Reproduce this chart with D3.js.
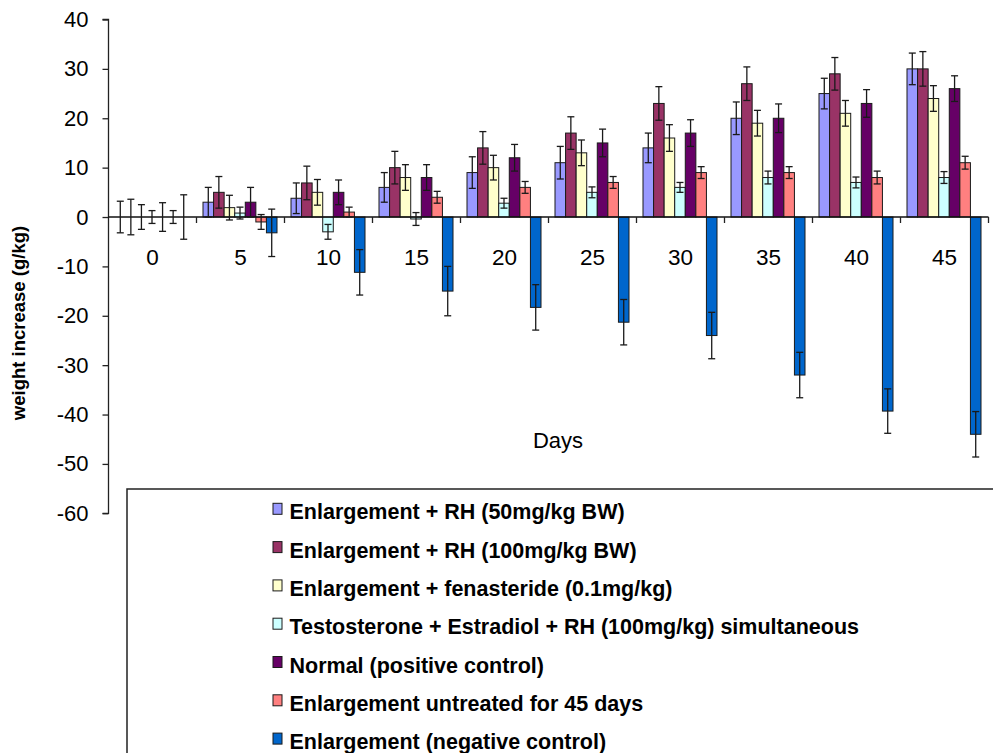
<!DOCTYPE html>
<html>
<head>
<meta charset="utf-8">
<script src="https://cdn.jsdelivr.net/npm/d3@7"></script>
<style>
  html, body { margin: 0; padding: 0; background: #fff; }
  svg { display: block; font-family: "Liberation Sans", Arial, sans-serif; }
</style>
</head>
<body>
<svg id="chart" width="993" height="753"></svg>
<script>
const days = ["0", "5", "10", "15", "20", "25", "30", "35", "40", "45"];
const seriesNames = [
  "Enlargement + RH (50mg/kg BW)",
  "Enlargement + RH (100mg/kg BW)",
  "Enlargement + fenasteride (0.1mg/kg)",
  "Testosterone + Estradiol + RH (100mg/kg) simultaneous",
  "Normal (positive control)",
  "Enlargement untreated for 45 days",
  "Enlargement (negative control)"
];
const seriesColors = ["#9999FF", "#993366", "#FFFFCC", "#CCFFFF", "#660066", "#FF8080", "#0066CC"];

const rh50      = [0, 3.0, 3.8, 6.0, 9.0, 11.0, 14.0, 20.0, 25.0, 30.0];
const rh50Err   = [3.2, 3.0, 3.1, 3.0, 3.2, 3.3, 3.0, 3.3, 3.1, 3.2];
const rh100     = [0, 5.0, 6.9, 10.0, 14.0, 17.0, 23.0, 27.0, 29.0, 30.0];
const rh100Err  = [3.6, 3.2, 3.4, 3.3, 3.3, 3.3, 3.4, 3.4, 3.3, 3.5];
const fenast    = [0, 1.9, 5.0, 8.0, 10.0, 13.0, 16.0, 19.0, 21.0, 24.0];
const fenastErr = [2.5, 2.5, 2.6, 2.6, 2.5, 2.6, 2.7, 2.6, 2.6, 2.6];
const testo     = [0, 0.8, -3.0, -0.4, 2.8, 5.0, 6.0, 8.0, 7.0, 8.0];
const testoErr  = [1.3, 1.2, 1.5, 1.3, 1.0, 1.1, 1.0, 1.3, 1.1, 1.2];
const normal    = [0, 3.0, 5.0, 8.0, 12.0, 15.0, 17.0, 20.0, 23.0, 26.0];
const normalErr = [2.9, 3.0, 2.5, 2.6, 2.7, 2.8, 2.7, 2.9, 2.8, 2.6];
const untreated    = [0, -1.0, 1.0, 4.0, 6.0, 7.0, 9.0, 9.0, 8.0, 11.0];
const untreatedErr = [1.3, 1.5, 1.0, 1.2, 1.2, 1.2, 1.2, 1.2, 1.3, 1.3];
const negative     = [0, -3.2, -11.2, -15.0, -18.3, -21.3, -24.0, -32.0, -39.3, -44.0];
const negativeErr  = [4.5, 4.8, 4.6, 5.0, 4.6, 4.6, 4.7, 4.6, 4.5, 4.6];

const yTicks = [-60, -50, -40, -30, -20, -10, 0, 10, 20, 30, 40];

const seriesValues = [rh50, rh100, fenast, testo, normal, untreated, negative];
const seriesErrors = [rh50Err, rh100Err, fenastErr, testoErr, normalErr, untreatedErr, negativeErr];

const svg = d3.select("#chart");

const x0 = d3.scaleBand().domain(days).range([108.5, 988.5]).padding(0);
const x1 = d3.scaleBand().domain(d3.range(seriesNames.length)).range([6.5, 80.5]).padding(0);
const y = d3.scaleLinear().domain([-60, 40]).range([513.3, 19.5]);

// y axis
const yAxis = svg.append("g")
  .attr("transform", "translate(108.5,0)")
  .call(d3.axisLeft(y).tickValues(yTicks).tickSize(6).tickPadding(14).tickFormat(d => String(d)));
yAxis.select(".domain").attr("stroke", "#222").attr("stroke-width", 1.3).attr("d", `M-6,${y(-60)}H0V${y(40)}H-6`);
yAxis.selectAll(".tick line").attr("stroke", "#222").attr("stroke-width", 1.3);
yAxis.selectAll(".tick text").attr("font-size", 22).attr("fill", "#000")
  .attr("font-family", "'Liberation Sans', Arial, sans-serif");

// bars
const groups = svg.append("g").selectAll("g")
  .data(days)
  .join("g")
  .attr("transform", d => `translate(${x0(d)},0)`);

groups.selectAll("rect")
  .data((d, i) => seriesValues.map((vals, s) => ({ s, v: vals[i] })))
  .join("rect")
  .attr("x", d => x1(d.s))
  .attr("width", x1.bandwidth())
  .attr("y", d => y(Math.max(0, d.v)))
  .attr("height", d => Math.abs(y(d.v) - y(0)))
  .attr("fill", d => seriesColors[d.s])
  .attr("stroke", "#1a1a1a")
  .attr("stroke-width", 1);

// x axis line and ticks
svg.append("line")
  .attr("x1", x0.range()[0]).attr("x2", x0.range()[1])
  .attr("y1", y(0)).attr("y2", y(0))
  .attr("stroke", "#111").attr("stroke-width", 1.5);
const bounds = days.map(d => x0(d)).concat([x0.range()[1]]);
svg.append("g").selectAll("line")
  .data(bounds.slice(1))
  .join("line")
  .attr("x1", d => d).attr("x2", d => d)
  .attr("y1", y(0)).attr("y2", y(0) + 6)
  .attr("stroke", "#222").attr("stroke-width", 1.3);

// error bars
const errG = svg.append("g");
days.forEach((day, i) => {
  seriesValues.forEach((vals, s) => {
    const cx = x0(day) + x1(s) + x1.bandwidth() / 2;
    const v = vals[i], e = seriesErrors[s][i];
    const yt = y(v + e), yb = y(v - e);
    errG.append("line").attr("x1", cx).attr("x2", cx).attr("y1", yt).attr("y2", yb)
      .attr("stroke", "#1a1a1a").attr("stroke-width", 1.3);
    [yt, yb].forEach(yy => {
      errG.append("line").attr("x1", cx - 3.5).attr("x2", cx + 3.5).attr("y1", yy).attr("y2", yy)
        .attr("stroke", "#1a1a1a").attr("stroke-width", 1.3);
    });
  });
});

// category labels
svg.append("g").selectAll("text")
  .data(days)
  .join("text")
  .attr("x", d => x0(d) + x0.bandwidth() / 2)
  .attr("y", 264.5)
  .attr("text-anchor", "middle")
  .attr("font-size", 22.5)
  .attr("fill", "#000")
  .text(d => d);

// axis titles
svg.append("text")
  .attr("x", 558).attr("y", 447.5)
  .attr("text-anchor", "middle")
  .attr("font-size", 22)
  .attr("fill", "#000")
  .text("Days");

svg.append("text")
  .attr("transform", "translate(25,323) rotate(-90)")
  .attr("text-anchor", "middle")
  .attr("font-size", 18.5)
  .attr("font-weight", "bold")
  .attr("fill", "#000")
  .text("weight increase (g/kg)");

// legend
const legend = svg.append("g");
legend.append("rect")
  .attr("x", 127).attr("y", 489)
  .attr("width", 900).attr("height", 320)
  .attr("fill", "#fff")
  .attr("stroke", "#222").attr("stroke-width", 1.5);

const rows = legend.selectAll("g.row")
  .data(seriesNames)
  .join("g")
  .attr("class", "row")
  .attr("transform", (d, i) => `translate(0,${519.3 + i * 38.3})`);
rows.append("rect")
  .attr("x", 273).attr("y", -16).attr("width", 9).attr("height", 11)
  .attr("fill", (d, i) => seriesColors[i])
  .attr("stroke", "#1a1a1a").attr("stroke-width", 1);
rows.append("text")
  .attr("x", 289.5).attr("y", 0)
  .attr("font-size", 21.5)
  .attr("font-weight", "bold")
  .attr("fill", "#000")
  .text(d => d);
</script>
</body>
</html>
